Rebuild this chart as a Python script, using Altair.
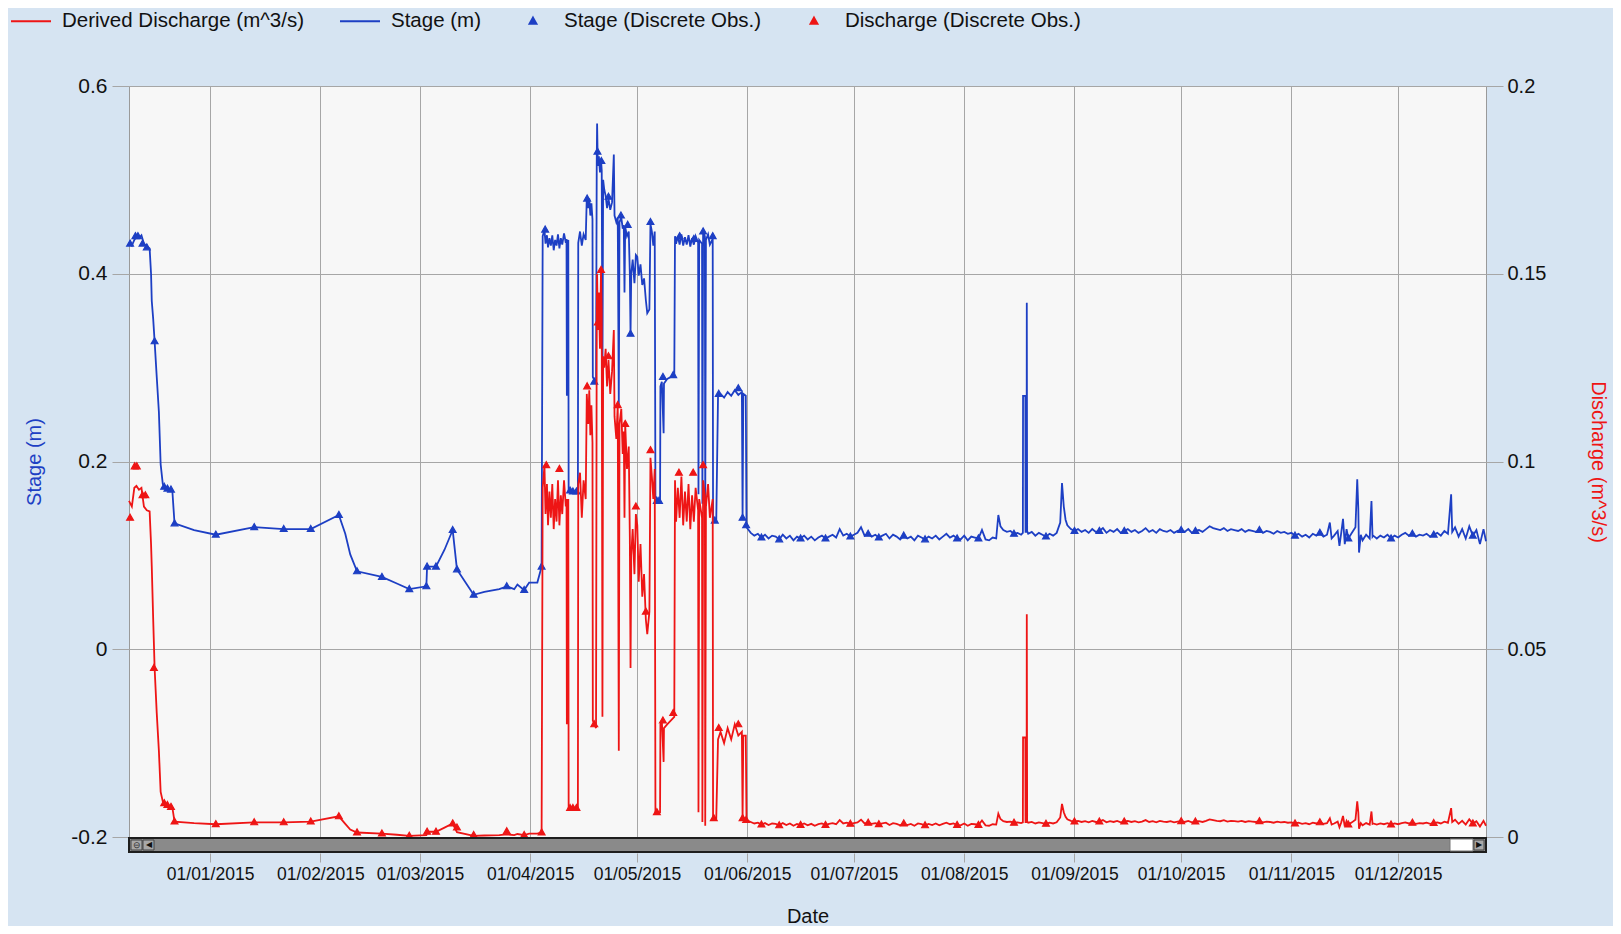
import altair as alt
import pandas as pd

BLUE = "#1d3fc4"
RED = "#ee1515"
FONT = "Liberation Sans"

# ---- continuous series: (day offset from 2015-01-01, stage m, discharge m^3/s) ----
early_day = [-22.8, -22.0, -21.3, -20.7, -20.0, -19.3, -18.6, -17.8, -17.0, -16.6, -16.4, -16.0, -15.6,
             -15.0, -14.4, -13.9, -13.3, -12.9, -12.0, -11.0, -10.6, -10.0, -4.5, 1.6, 12.4, 20.7, 28.3,
             36.2, 38.0, 39.4, 41.3, 48.3, 52.5, 56.0, 60.8, 61.0, 63.5, 65.9, 68.2, 69.4, 74.1, 77.1,
             81.3, 83.4, 85.5, 86.4, 88.3, 89.7, 92.0, 93.2]
early_stage = [0.433, 0.430, 0.436, 0.440, 0.438, 0.441, 0.432, 0.429, 0.427, 0.400, 0.371, 0.352, 0.328,
               0.290, 0.253, 0.197, 0.176, 0.173, 0.171, 0.170, 0.168, 0.134, 0.127, 0.122, 0.130, 0.128, 0.128,
               0.143, 0.123, 0.101, 0.083, 0.077, 0.070, 0.064, 0.067, 0.088, 0.088, 0.106, 0.127, 0.085, 0.058, 0.061,
               0.064, 0.067, 0.064, 0.069, 0.063, 0.071, 0.071, 0.088]
early_q = [0.0895, 0.0880, 0.0930, 0.0935, 0.0925, 0.0930, 0.0880, 0.0870, 0.0867, 0.0780, 0.0720, 0.0580, 0.0450,
           0.0330, 0.0230, 0.0120, 0.0095, 0.0090, 0.0085, 0.0080, 0.0078, 0.0041, 0.0037, 0.0034, 0.0039, 0.0039, 0.0041,
           0.0055, 0.0035, 0.0020, 0.0012, 0.0009, 0.0006, 0.0003, 0.0005, 0.0014, 0.0014, 0.0025, 0.0036, 0.0013, 0.0003, 0.0004,
           0.0005, 0.0007, 0.0005, 0.0008, 0.0005, 0.0009, 0.0009, 0.0012]

mid_day = [93.5, 94.0, 94.3, 94.7, 95.0, 95.4, 95.8, 96.2, 96.6, 97.0, 97.4, 97.8, 98.2, 98.6, 99.0, 99.5,
           100.0, 100.2, 100.3, 100.4, 100.7, 100.8, 101.5, 102.5, 103.4, 103.5, 104.0, 104.5, 105.0, 105.6,
           105.9, 106.3, 106.6, 106.9, 107.2, 107.5, 107.6, 108.5, 108.7, 108.8, 109.0, 109.3, 109.6, 109.9,
           110.1, 110.3, 110.5, 110.8, 111.2, 111.6, 112.0, 112.5, 113.0, 113.5, 113.7, 114.2, 114.6, 114.9,
           115.1, 115.6, 116.0, 116.3, 116.5, 116.7, 117.2, 117.7, 118.0, 118.2, 118.4, 118.8, 119.3, 119.7,
           120.1, 120.5, 121.0, 121.5, 122.0, 122.5, 122.9, 123.5, 123.8, 124.2, 124.6, 125.0, 125.2, 125.8,
           126.5, 126.6, 127.0, 127.5, 127.6, 128.5, 129.5, 130.5, 130.7, 131.0, 131.5, 132.0, 132.5, 133.0,
           133.5, 134.0, 134.5, 135.0, 135.5, 136.0, 136.5, 137.2, 137.3, 137.5, 138.3, 138.4, 138.6, 139.1,
           139.2, 139.4, 140.0, 140.5, 141.3, 141.4, 142.3, 142.8, 143.5, 144.5, 145.5, 146.5, 147.5, 148.5,
           149.5, 149.7, 149.9, 150.6, 150.8]
mid_stage = [0.440, 0.447, 0.432, 0.441, 0.428, 0.438, 0.430, 0.441, 0.425, 0.436, 0.430, 0.442, 0.427, 0.438, 0.431, 0.443,
             0.433, 0.437, 0.270, 0.433, 0.436, 0.168, 0.170, 0.167, 0.169, 0.433, 0.445, 0.430, 0.442, 0.436,
             0.482, 0.470, 0.480, 0.462, 0.475, 0.458, 0.290, 0.283, 0.520, 0.560, 0.515, 0.525, 0.508, 0.522,
             0.510, 0.290, 0.500, 0.490, 0.483, 0.470, 0.480, 0.468, 0.476, 0.527, 0.462, 0.455, 0.460, 0.260,
             0.455, 0.460, 0.448, 0.452, 0.380, 0.450, 0.440, 0.445, 0.400, 0.336, 0.400, 0.415, 0.390, 0.420,
             0.418, 0.398, 0.410, 0.388, 0.395, 0.372, 0.358, 0.362, 0.453, 0.445, 0.430, 0.445, 0.163, 0.158,
             0.158, 0.280, 0.285, 0.230, 0.283, 0.288, 0.290, 0.292, 0.440, 0.432, 0.440, 0.431, 0.442, 0.430,
             0.439, 0.431, 0.441, 0.429, 0.438, 0.431, 0.440, 0.433, 0.165, 0.436, 0.432, 0.155, 0.444, 0.440,
             0.148, 0.436, 0.442, 0.431, 0.437, 0.137, 0.137, 0.270, 0.272, 0.268, 0.274, 0.270, 0.276, 0.271,
             0.274, 0.140, 0.272, 0.270, 0.130]
mid_q = [0.093, 0.099, 0.086, 0.094, 0.083, 0.092, 0.085, 0.094, 0.082, 0.090, 0.084, 0.095, 0.083, 0.091, 0.086, 0.095,
         0.088, 0.090, 0.030, 0.088, 0.090, 0.0077, 0.0079, 0.0076, 0.0078, 0.094, 0.097, 0.085, 0.095, 0.090,
         0.118, 0.110, 0.119, 0.107, 0.115, 0.105, 0.031, 0.029, 0.140, 0.150, 0.135, 0.145, 0.130, 0.151,
         0.140, 0.032, 0.128, 0.125, 0.130, 0.120, 0.127, 0.118, 0.124, 0.135, 0.112, 0.106, 0.115, 0.023,
         0.110, 0.114, 0.102, 0.108, 0.085, 0.110, 0.098, 0.104, 0.080, 0.045, 0.075, 0.082, 0.070, 0.086,
         0.083, 0.068, 0.078, 0.064, 0.070, 0.058, 0.054, 0.060, 0.101, 0.096, 0.090, 0.098, 0.0066, 0.0064,
         0.0066, 0.030, 0.031, 0.020, 0.029, 0.030, 0.031, 0.032, 0.095, 0.084, 0.093, 0.085, 0.096, 0.083,
         0.092, 0.084, 0.094, 0.082, 0.091, 0.084, 0.093, 0.087, 0.0066, 0.090, 0.085, 0.004, 0.095, 0.091,
         0.003, 0.088, 0.094, 0.085, 0.090, 0.005, 0.005, 0.026, 0.028, 0.025, 0.029, 0.026, 0.030, 0.027,
         0.028, 0.005, 0.027, 0.027, 0.0045]

# daily readings 2015-06-02 .. 2015-08-10 (day 152..221)
summer_start = 152
summer_stage = [0.124, 0.121, 0.123, 0.119, 0.122, 0.118, 0.121, 0.120, 0.117, 0.122,
                0.118, 0.121, 0.116, 0.120, 0.118, 0.121, 0.117, 0.120, 0.116, 0.119,
                0.121, 0.118, 0.120, 0.122, 0.119, 0.128, 0.121, 0.123, 0.120, 0.122,
                0.124, 0.130, 0.121, 0.123, 0.120, 0.122, 0.119, 0.121, 0.123, 0.118,
                0.122, 0.120, 0.117, 0.121, 0.118, 0.120, 0.116, 0.121, 0.119, 0.117,
                0.120, 0.118, 0.121, 0.117, 0.120, 0.123, 0.119, 0.121, 0.118, 0.117,
                0.121, 0.116, 0.120, 0.119, 0.118, 0.127, 0.117, 0.116, 0.119, 0.118]
summer_q = [0.0040, 0.0036, 0.0038, 0.0033, 0.0037, 0.0032, 0.0036, 0.0035, 0.0031, 0.0037,
            0.0032, 0.0036, 0.0030, 0.0035, 0.0032, 0.0036, 0.0031, 0.0035, 0.0030, 0.0034,
            0.0036, 0.0032, 0.0035, 0.0037, 0.0034, 0.0045, 0.0036, 0.0038, 0.0035, 0.0037,
            0.0039, 0.0046, 0.0036, 0.0038, 0.0035, 0.0037, 0.0034, 0.0036, 0.0038, 0.0032,
            0.0037, 0.0035, 0.0031, 0.0036, 0.0032, 0.0035, 0.0030, 0.0036, 0.0034, 0.0031,
            0.0035, 0.0032, 0.0036, 0.0031, 0.0035, 0.0038, 0.0034, 0.0036, 0.0032, 0.0031,
            0.0036, 0.0030, 0.0035, 0.0034, 0.0032, 0.0044, 0.0031, 0.0030, 0.0034, 0.0033]

aug_day = [221.6, 222.2, 223, 224, 225, 226, 227, 228, 228.5, 228.55, 229.2, 229.25, 229.55, 229.6, 229.7,
           230, 231, 232, 233, 234, 235, 236, 237, 238, 239, 239.5, 240, 240.5, 241, 242]
aug_stage = [0.143, 0.131, 0.127, 0.125, 0.126, 0.123, 0.124, 0.122, 0.124, 0.270, 0.270, 0.125, 0.125, 0.369, 0.126,
             0.123, 0.125, 0.121, 0.124, 0.122, 0.120, 0.123, 0.121, 0.124, 0.135, 0.177, 0.152, 0.138, 0.132, 0.128]
aug_q = [0.0062, 0.0048, 0.0042, 0.0040, 0.0041, 0.0038, 0.0039, 0.0037, 0.0039, 0.0265, 0.0265, 0.0040, 0.0040, 0.0593, 0.0041,
         0.0038, 0.0040, 0.0036, 0.0039, 0.0037, 0.0035, 0.0038, 0.0036, 0.0039, 0.0052, 0.0088, 0.0066, 0.0054, 0.0047, 0.0043]

# daily readings 2015-09-01 .. 2015-10-31 (day 243..303)
autumn_start = 243
autumn_stage = [0.126, 0.128, 0.125, 0.127, 0.124, 0.128, 0.125, 0.126, 0.129, 0.124,
                0.127, 0.125, 0.128, 0.124, 0.126, 0.128, 0.125, 0.127, 0.124, 0.126,
                0.129, 0.125, 0.127, 0.124, 0.128, 0.126, 0.125, 0.127, 0.124, 0.126,
                0.127, 0.125, 0.128, 0.124, 0.126, 0.127, 0.125, 0.128, 0.131, 0.129,
                0.128, 0.127, 0.129, 0.126, 0.128, 0.127, 0.126, 0.128, 0.125, 0.127,
                0.126, 0.125, 0.127, 0.124, 0.126, 0.125, 0.123, 0.126, 0.124, 0.125, 0.123]
autumn_q = [0.0041, 0.0043, 0.0040, 0.0042, 0.0039, 0.0043, 0.0040, 0.0041, 0.0045, 0.0039,
            0.0042, 0.0040, 0.0043, 0.0039, 0.0041, 0.0043, 0.0040, 0.0042, 0.0039, 0.0041,
            0.0045, 0.0040, 0.0042, 0.0039, 0.0043, 0.0041, 0.0040, 0.0042, 0.0039, 0.0041,
            0.0042, 0.0040, 0.0043, 0.0039, 0.0041, 0.0042, 0.0040, 0.0043, 0.0047, 0.0045,
            0.0043, 0.0042, 0.0045, 0.0041, 0.0043, 0.0042, 0.0041, 0.0043, 0.0040, 0.0042,
            0.0041, 0.0040, 0.0042, 0.0039, 0.0041, 0.0040, 0.0038, 0.0041, 0.0039, 0.0040, 0.0038]

winter_day = [304, 305, 306, 307, 308, 309, 310, 311, 312, 313, 314, 314.8, 315.3, 316, 317, 317.5, 318, 318.5,
              319, 319.5, 320, 321, 322, 322.5, 322.8, 323, 323.5, 324, 325, 326, 326.5, 326.8, 327, 328, 329,
              330, 331, 332, 333, 334, 335, 336, 337, 338, 339, 340, 341, 342, 343, 344, 345, 346, 347, 348,
              348.9, 349.2, 350, 351, 352, 353, 354, 355, 356, 357, 358, 358.7]
winter_stage = [0.124, 0.121, 0.123, 0.120, 0.122, 0.119, 0.123, 0.121, 0.124, 0.120, 0.122, 0.135, 0.118, 0.121,
                0.126, 0.110, 0.124, 0.139, 0.112, 0.128, 0.118, 0.124, 0.130, 0.181, 0.150, 0.103, 0.122, 0.116,
                0.122, 0.118, 0.158, 0.120, 0.121, 0.118, 0.121, 0.119, 0.122, 0.118, 0.121, 0.119, 0.122, 0.124,
                0.121, 0.123, 0.120, 0.122, 0.121, 0.123, 0.120, 0.122, 0.124, 0.121, 0.126, 0.123, 0.165, 0.125,
                0.130, 0.120, 0.128, 0.118, 0.131, 0.121, 0.127, 0.112, 0.128, 0.115]
winter_q = [0.0039, 0.0036, 0.0038, 0.0035, 0.0037, 0.0034, 0.0038, 0.0036, 0.0039, 0.0035, 0.0037, 0.0050, 0.0033, 0.0036,
            0.0041, 0.0026, 0.0039, 0.0056, 0.0028, 0.0043, 0.0033, 0.0039, 0.0046, 0.0095, 0.0066, 0.0022, 0.0037, 0.0031,
            0.0037, 0.0033, 0.0068, 0.0035, 0.0036, 0.0033, 0.0036, 0.0034, 0.0037, 0.0033, 0.0036, 0.0034, 0.0037, 0.0039,
            0.0036, 0.0038, 0.0035, 0.0037, 0.0036, 0.0038, 0.0035, 0.0037, 0.0039, 0.0036, 0.0041, 0.0038, 0.0077, 0.0040,
            0.0046, 0.0035, 0.0043, 0.0033, 0.0047, 0.0036, 0.0042, 0.0028, 0.0043, 0.0030]

# ---- discrete observations ----
stage_obs_day = [-22.5, -21.0, -20.3, -19.0, -17.8, -15.6, -12.9, -12.0, -11.0, -10.0, 1.6, 12.4, 20.7, 28.3, 36.2,
                 41.3, 48.3, 56.0, 60.8, 61.0, 63.5, 68.2, 69.4, 74.1, 83.4, 88.3, 93.2,
                 94.2, 101.2, 102.0, 103.0, 106.0, 108.0, 108.9, 110.0, 112.0, 115.5, 117.4, 118.2, 123.8, 125.6,
                 126.2, 127.3, 130.2, 132.0, 136.0, 138.6, 141.3, 141.9, 143.0, 148.5, 149.7, 150.7,
                 155, 160, 166, 173, 180, 185, 188, 195, 201, 210, 216, 226, 235, 243, 250, 257, 273, 277, 295,
                 305, 312, 320, 332, 338, 344, 355]
stage_obs_val = [0.432, 0.440, 0.440, 0.432, 0.428, 0.328, 0.173, 0.171, 0.170, 0.134, 0.122, 0.130, 0.128, 0.128, 0.143,
                 0.083, 0.077, 0.064, 0.067, 0.088, 0.088, 0.127, 0.085, 0.058, 0.067, 0.063, 0.088,
                 0.447, 0.169, 0.168, 0.168, 0.480, 0.285, 0.530, 0.520, 0.482, 0.462, 0.452, 0.336, 0.455, 0.158,
                 0.158, 0.290, 0.292, 0.440, 0.437, 0.445, 0.440, 0.137, 0.272, 0.278, 0.140, 0.132,
                 0.119, 0.117, 0.118, 0.118, 0.120, 0.123, 0.119, 0.121, 0.117, 0.118, 0.118, 0.123, 0.120, 0.126,
                 0.126, 0.126, 0.127, 0.126, 0.127, 0.121, 0.124, 0.118, 0.118, 0.123, 0.122, 0.121]
q_obs_day = [-22.5, -21.2, -20.6, -19.0, -18.2, -15.8, -12.9, -12.0, -11.0, -10.0, 1.6, 12.4, 20.7, 28.3, 36.2,
             41.3, 48.3, 56.0, 61.0, 63.5, 68.2, 69.4, 74.1, 83.4, 88.3, 93.2,
             94.5, 98.2, 101.2, 102.0, 103.0, 106.0, 108.0, 109.0, 109.9, 112.0, 114.6, 116.7, 119.7, 122.5, 123.8,
             125.6, 127.3, 130.2, 131.8, 135.8, 138.6, 141.6, 143.0, 148.5, 149.7, 150.7,
             155, 160, 166, 173, 180, 185, 188, 195, 201, 210, 216, 226, 235, 243, 250, 257, 273, 277, 295,
             305, 312, 320, 332, 338, 344, 355]
q_obs_val = [0.0850, 0.0987, 0.0987, 0.0910, 0.0910, 0.0450, 0.0090, 0.0085, 0.0080, 0.0041, 0.0034, 0.0039, 0.0039, 0.0041, 0.0055,
             0.0012, 0.0009, 0.0003, 0.0014, 0.0014, 0.0036, 0.0025, 0.0005, 0.0015, 0.0005, 0.0012,
             0.099, 0.098, 0.0077, 0.0077, 0.0077, 0.120, 0.030, 0.137, 0.151, 0.128, 0.115, 0.110, 0.088, 0.060, 0.103,
             0.0066, 0.031, 0.033, 0.097, 0.097, 0.099, 0.005, 0.029, 0.030, 0.005, 0.0045,
             0.0033, 0.0031, 0.0032, 0.0032, 0.0035, 0.0038, 0.0034, 0.0036, 0.0031, 0.0032, 0.0032, 0.0038, 0.0035, 0.0041,
             0.0041, 0.0041, 0.0042, 0.0041, 0.0042, 0.0036, 0.0039, 0.0033, 0.0033, 0.0038, 0.0037, 0.0036]

SERIES = ["Derived Discharge (m^3/s)", "Stage (m)", "Stage (Discrete Obs.)", "Discharge (Discrete Obs.)"]
x_domain_days = [-22.8, 358.7]
month_ticks = [1, 2, 3, 4, 5, 6, 7, 8, 9, 10, 11, 12]

BASE = pd.Timestamp("2015-01-01")


def to_iso(days):
    return [(BASE + pd.Timedelta(days=float(d))).strftime("%Y-%m-%dT%H:%M:%S") for d in days]


summer_day = [summer_start + i for i in range(len(summer_stage))]
autumn_day = [autumn_start + i for i in range(len(autumn_stage))]

all_day = early_day + mid_day + summer_day + aug_day + autumn_day + winter_day
all_stage = early_stage + mid_stage + summer_stage + aug_stage + autumn_stage + winter_stage
all_q = early_q + mid_q + summer_q + aug_q + autumn_q + winter_q
line_df = pd.DataFrame({"day": all_day, "stage": all_stage, "discharge": all_q}).sort_values("day")
line_df["date"] = to_iso(line_df["day"])

stage_obs_df = pd.DataFrame({"date": to_iso(stage_obs_day), "stage": stage_obs_val,
                             "series": "Stage (Discrete Obs.)"})
q_obs_df = pd.DataFrame({"date": to_iso(q_obs_day), "discharge": q_obs_val,
                         "series": "Discharge (Discrete Obs.)"})
one_row = pd.DataFrame({"k": [0]})

W, H = 1357, 751
GRID = "#a6a6a6"
SYM = 1600                                  # legend cell: a 40px line
TRI = "M0,-0.18L0.17,0.12L-0.17,0.12Z"      # small triangle drawn at the same symbol size

xdom = to_iso(x_domain_days)
X = alt.X("date:T", title="Date",
          scale=alt.Scale(domain=xdom),
          axis=alt.Axis(values=[alt.DateTime(year=2015, month=m, date=1) for m in month_ticks],
                        format="%d/%m/%Y", grid=True, gridColor=GRID, domain=False,
                        offset=16, tickSize=9, tickColor=GRID, labelPadding=3,
                        labelFontSize=17.5, titleFontSize=20, titleColor="#111",
                        titleFontWeight="normal", titleY=63, titleBaseline="middle"))

YS = alt.Y("stage:Q", title="Stage (m)",
           scale=alt.Scale(domain=[-0.2, 0.6], nice=False, zero=False),
           axis=alt.Axis(orient="left", values=[-0.2, 0, 0.2, 0.4, 0.6], labelExpr="datum.value + ''",
                         grid=True, gridColor=GRID, domain=False, tickSize=17, tickColor=GRID,
                         labelPadding=5, labelFontSize=21, titleColor=BLUE, titleFontSize=20,
                         titleFontWeight="normal", titleX=-95, titleY=H / 2, titleAngle=-90,
                         titleBaseline="middle", titleAlign="center"))
YQ = alt.Y("discharge:Q", title="Discharge (m^3/s)",
           scale=alt.Scale(domain=[0, 0.2], nice=False, zero=False),
           axis=alt.Axis(orient="right", values=[0, 0.05, 0.1, 0.15, 0.2], labelExpr="datum.value + ''",
                         grid=False, domain=False, tickSize=17, tickColor=GRID,
                         labelPadding=4, labelFontSize=20, titleColor=RED, titleFontSize=20,
                         titleFontWeight="normal", titleX=111, titleY=H / 2, titleAngle=90,
                         titleBaseline="middle", titleAlign="center"))

legend = alt.Legend(title=None, orient="none", legendX=-119, legendY=-86, direction="horizontal",
                    labelFontSize=20.5, labelFont=FONT, labelColor="#111", labelLimit=0,
                    symbolStrokeWidth=2, symbolSize=SYM, columnPadding=31, labelOffset=10,
                    padding=0, symbolOpacity=1)
COLOR = alt.Color("series:N", scale=alt.Scale(domain=SERIES, range=[RED, BLUE, BLUE, RED]), legend=legend)
FILL = alt.Fill("series:N", scale=alt.Scale(domain=SERIES, range=["transparent", "transparent", BLUE, RED]),
                legend=legend)
SHAPE = alt.Shape("series:N", scale=alt.Scale(domain=SERIES, range=["stroke", "stroke", TRI, TRI]), legend=legend)

stage_line = alt.Chart(line_df).mark_line(color=BLUE, strokeWidth=1.8).encode(x=X, y=YS)
stage_pts = alt.Chart(stage_obs_df).mark_point(filled=False, strokeWidth=1.2, opacity=1, size=SYM).encode(
    x=X, y=YS, color=COLOR, fill=FILL, shape=SHAPE)
q_line = alt.Chart(line_df).mark_line(color=RED, strokeWidth=1.8).encode(x=X, y=YQ)
q_pts = alt.Chart(q_obs_df).mark_point(filled=False, strokeWidth=1.2, opacity=1, size=SYM).encode(
    x=X, y=YQ, color=COLOR, fill=FILL, shape=SHAPE)

left = alt.layer(stage_line, stage_pts)
right = alt.layer(q_line, q_pts)

# scrollbar decoration below the plot area
sb_track = alt.Chart(one_row).mark_rect(fill="#8a8a8a", stroke="#1e1e1e", strokeWidth=2).encode(
    x=alt.value(0), x2=alt.value(W), y=alt.value(H + 1), y2=alt.value(H + 15))
sb_btn1 = alt.Chart(one_row).mark_rect(fill="#a8a8a8", stroke="#444", strokeWidth=1).encode(
    x=alt.value(2), x2=alt.value(13), y=alt.value(H + 3), y2=alt.value(H + 13))
sb_btn2 = alt.Chart(one_row).mark_rect(fill="#a8a8a8", stroke="#444", strokeWidth=1).encode(
    x=alt.value(14), x2=alt.value(25), y=alt.value(H + 3), y2=alt.value(H + 13))
sb_thumb = alt.Chart(one_row).mark_rect(fill="#ffffff", stroke="#777", strokeWidth=1).encode(
    x=alt.value(W - 36), x2=alt.value(W - 13), y=alt.value(H + 2), y2=alt.value(H + 14))
sb_btn3 = alt.Chart(one_row).mark_rect(fill="#a8a8a8", stroke="#444", strokeWidth=1).encode(
    x=alt.value(W - 12), x2=alt.value(W - 2), y=alt.value(H + 3), y2=alt.value(H + 13))
sb_l = alt.Chart(one_row).mark_text(text="◀", fontSize=8, color="#111").encode(
    x=alt.value(19.5), y=alt.value(H + 8))
sb_r = alt.Chart(one_row).mark_text(text="▶", fontSize=8, color="#111").encode(
    x=alt.value(W - 7), y=alt.value(H + 8))
sb_o = alt.Chart(one_row).mark_text(text="⊖", fontSize=9, color="#333").encode(
    x=alt.value(7.5), y=alt.value(H + 8))

chart = alt.layer(left, right, sb_track, sb_btn1, sb_btn2, sb_thumb, sb_btn3, sb_l, sb_r, sb_o).resolve_scale(
    y="independent"
).properties(
    width=W, height=H,
    padding={"left": 121, "top": 78, "right": 127, "bottom": 89},
    autosize=alt.AutoSizeParams(type="none"),
    background="#d6e4f2",
).configure_view(
    fill="#f7f7f7", stroke="#9a9a9a", strokeWidth=1
).configure_axis(
    labelFont=FONT, titleFont=FONT, labelColor="#111"
).configure_legend(
    labelFont=FONT
)

chart.save("out.html", embed_options={"renderer": "svg", "actions": False})
